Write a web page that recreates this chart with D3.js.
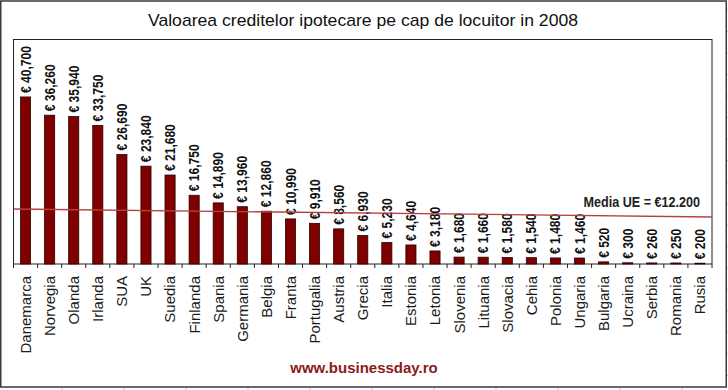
<!DOCTYPE html>
<html>
<head>
<meta charset="utf-8">
<script src="https://cdn.jsdelivr.net/npm/d3@7"></script>
<style>
  body { margin: 0; background: #fff; }
  text { font-family: "Liberation Sans", Arial, sans-serif; }
</style>
</head>
<body>
<div id="chart"></div>
<script>
var countries = ['Danemarca', 'Norvegia', 'Olanda', 'Irlanda', 'SUA', 'UK', 'Suedia', 'Finlanda',
  'Spania', 'Germania', 'Belgia', 'Franta', 'Portugalia', 'Austria', 'Grecia', 'Italia', 'Estonia',
  'Letonia', 'Slovenia', 'Lituania', 'Slovacia', 'Cehia', 'Polonia', 'Ungaria', 'Bulgaria',
  'Ucraina', 'Serbia', 'Romania', 'Rusia'];
var credit = [40700, 36260, 35940, 33750, 26690, 23840, 21680, 16750, 14890, 13960, 12860, 10990,
  9910, 8560, 6930, 5230, 4640, 3180, 1680, 1660, 1580, 1540, 1480, 1460, 520, 300, 260, 250, 200];
// the average line in the picture is drawn slightly tilted: value at left and right end
var mediaLine = [13400, 11450];
var mediaLabel = 'Media UE = €12.200';
var title = 'Valoarea creditelor ipotecare pe cap de locuitor in 2008';
var source = 'www.businessday.ro';

var W = 728, H = 390;
var plot = { left: 13.5, right: 712, top: 39.5, bottom: 264 };

var svg = d3.select('#chart').append('svg')
  .attr('width', W)
  .attr('height', H);

// faint spreadsheet grid behind the picture frame
var cols = d3.range(62, W, 62);
svg.selectAll('.gcol').data(cols).enter().append('line')
  .attr('x1', function(d){ return d; }).attr('x2', function(d){ return d; })
  .attr('y1', 387).attr('y2', H)
  .attr('stroke', '#c8c8c8');
var rows = d3.range(10, H, 21.5);
svg.selectAll('.grow').data(rows).enter().append('line')
  .attr('x1', 726).attr('x2', W)
  .attr('y1', function(d){ return d; }).attr('y2', function(d){ return d; })
  .attr('stroke', '#c8c8c8');

// outer frame
svg.append('rect')
  .attr('x', 0.75).attr('y', 1)
  .attr('width', 725.5).attr('height', 386)
  .attr('fill', '#fff')
  .attr('stroke', '#3a3a3a')
  .attr('stroke-width', 1.5);

var x = d3.scaleBand()
  .domain(countries)
  .range([plot.left, plot.right])
  .paddingInner(0.58)
  .paddingOuter(0.29);

var y = d3.scaleLinear()
  .domain([0, 54700])
  .range([plot.bottom, plot.top]);

var fmt = d3.format(',');

// plot box
svg.append('rect')
  .attr('x', plot.left).attr('y', plot.top)
  .attr('width', plot.right - plot.left)
  .attr('height', plot.bottom - plot.top)
  .attr('fill', 'none')
  .attr('stroke', '#222')
  .attr('stroke-width', 1);

// bars
svg.selectAll('.bar').data(credit).enter().append('rect')
  .attr('class', 'bar')
  .attr('x', function(d, i){ return x(countries[i]); })
  .attr('y', function(d){ return y(d); })
  .attr('width', x.bandwidth())
  .attr('height', function(d){ return y(0) - y(d); })
  .attr('fill', '#800000')
  .attr('stroke', '#2a0000')
  .attr('stroke-width', 0.8);

// value labels
svg.selectAll('.val').data(credit).enter().append('text')
  .attr('class', 'val')
  .attr('transform', function(d, i){
    var cx = x(countries[i]) + x.bandwidth() / 2;
    return 'translate(' + cx + ',' + (y(d) - 4) + ') rotate(-90) scale(0.86,1)';
  })
  .attr('dy', '0.36em')
  .style('font-size', '14px')
  .style('font-weight', 'bold')
  .style('fill', '#111')
  .text(function(d){ return '€ ' + fmt(d); });

// average line
svg.append('line')
  .attr('x1', plot.left).attr('x2', plot.right)
  .attr('y1', y(mediaLine[0])).attr('y2', y(mediaLine[1]))
  .attr('stroke', '#b8403c')
  .attr('stroke-width', 1.3);

svg.append('text')
  .attr('transform', 'translate(700,207) scale(0.9,1)')
  .style('text-anchor', 'end')
  .style('font-size', '14px')
  .style('font-weight', 'bold')
  .style('fill', '#222')
  .text(mediaLabel);

// x axis: ticks sit between categories
var bounds = d3.range(countries.length + 1).map(function(i){ return plot.left + i * x.step(); });
svg.selectAll('.tick').data(bounds).enter().append('line')
  .attr('x1', function(d){ return d; }).attr('x2', function(d){ return d; })
  .attr('y1', plot.bottom).attr('y2', plot.bottom + 4)
  .attr('stroke', '#222');

svg.selectAll('.cat').data(countries).enter().append('text')
  .attr('class', 'cat')
  .attr('transform', function(d){
    return 'translate(' + (x(d) + x.bandwidth() / 2) + ',' + (plot.bottom + 12) + ') rotate(-90)';
  })
  .attr('dy', '0.36em')
  .style('text-anchor', 'end')
  .style('font-size', '15px')
  .style('fill', '#1a1a1a')
  .text(function(d){ return d; });

// chart title
svg.append('text')
  .attr('x', 363)
  .attr('y', 26)
  .attr('textLength', 430)
  .attr('lengthAdjust', 'spacingAndGlyphs')
  .style('text-anchor', 'middle')
  .style('font-size', '17px')
  .style('fill', '#111')
  .text(title);

// source
svg.append('text')
  .attr('x', 364)
  .attr('y', 373)
  .style('text-anchor', 'middle')
  .style('font-size', '15px')
  .style('font-weight', 'bold')
  .style('fill', '#8b1a1a')
  .text(source);
</script>
</body>
</html>
